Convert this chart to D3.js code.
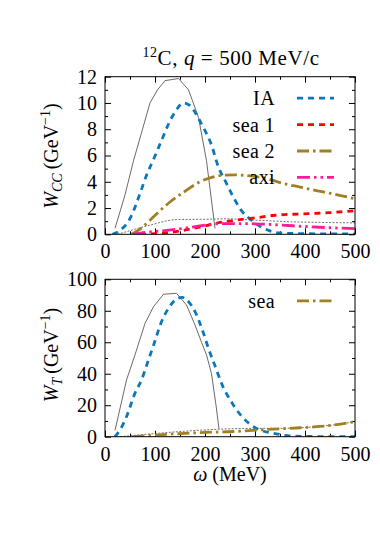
<!DOCTYPE html>
<html>
<head>
<meta charset="utf-8">
<script src="https://cdn.jsdelivr.net/npm/d3@7/dist/d3.min.js"></script>
<style>
  body { margin: 0; background: #fff; }
  svg text { font-family: 'Liberation Serif', 'Times New Roman', serif; fill: #000; }
</style>
</head>
<body>
<svg id="chart" width="380" height="545"></svg>
<script>
// ── data: [omega (MeV), W] ──────────────────────────────────────────────────
const xTicks = [0, 100, 200, 300, 400, 500]
const yTicksCC = [0, 2, 4, 6, 8, 10, 12]
const yTicksT = [0, 20, 40, 60, 80, 100]

const ccFull = [[20, 0.45], [40, 3.0], [57, 5.6], [75, 8.0], [90, 10.0], [105, 11.0], [120, 11.7], [147, 11.86],
  [167, 11.0], [187, 8.9], [203, 5.6], [220, 0.45]]
const ccIA = [[15, 0], [30, 0.3], [50, 1.2], [70, 3.1], [83, 4.5], [97, 5.7], [107, 6.6], [117, 7.5], [127, 8.4],
  [140, 9.3], [157, 10.0], [170, 9.8], [180, 9.3], [193, 8.4], [213, 6.8], [227, 5.1], [240, 4.1], [253, 3.1],
  [273, 1.8], [293, 1.07], [310, 0.6], [327, 0.3], [350, 0.1], [400, 0.05], [500, 0.02]]
const ccSea1 = [[70, 0], [100, 0.05], [130, 0.15], [157, 0.3], [190, 0.55], [230, 0.9], [260, 1.07], [300, 1.25],
  [340, 1.45], [413, 1.58], [450, 1.65], [500, 1.8]]
const ccSea2 = [[53, 0], [70, 0.4], [90, 1.07], [110, 1.8], [130, 2.46], [157, 3.2], [190, 4.0], [215, 4.35],
  [237, 4.5], [260, 4.52], [290, 4.45], [323, 4.25], [353, 3.9], [390, 3.6], [420, 3.35], [460, 3.05], [500, 2.7]]
const ccAxi = [[55, 0], [90, 0.18], [123, 0.3], [157, 0.45], [190, 0.64], [223, 0.8], [260, 0.82], [300, 0.8],
  [340, 0.73], [407, 0.58], [450, 0.5], [500, 0.43]]
const ccDotted = [[25, 0], [43, 0.2], [90, 0.7], [143, 1.12], [210, 1.15], [240, 1.18], [300, 1.08], [373, 0.95],
  [440, 0.9], [500, 0.87]]

const tFull = [[20, 4], [43, 36], [60, 52], [80, 72], [97, 82.6], [117, 90.5], [143, 91.1], [163, 83.7], [180, 71],
  [193, 60], [203, 52], [213, 40], [222, 20], [228, 5]]
const tIA = [[20, 0], [30, 4.3], [43, 12.7], [60, 27.7], [73, 36], [85, 47], [97, 58], [113, 73], [127, 81.6],
  [143, 87.5], [155, 88.5], [163, 87], [180, 79.5], [197, 65.7], [207, 56], [220, 45], [233, 34], [257, 20],
  [277, 11.7], [303, 5.3], [340, 2], [370, 0.5], [420, 0.1], [500, 0]]
const tSea = [[55, 0], [90, 0.8], [123, 1.5], [160, 2.1], [190, 2.6], [257, 3.3], [323, 4.6], [390, 5.7],
  [430, 6.5], [457, 7.4], [480, 8.4], [500, 9.6]]
const tDotted = [[30, 0], [60, 0.9], [103, 2.1], [160, 3.5], [223, 4.7], [297, 5.3], [357, 5.3], [423, 6.4],
  [470, 8], [500, 9.6]]

const legendCC = ['IA', 'sea 1', 'sea 2', 'axi']
const legendT = ['sea']

// ── styles ──────────────────────────────────────────────────────────────────
const styles = {
  full: { stroke: '#444', width: 0.8, dash: null, curve: d3.curveLinear },
  dotted: { stroke: '#333', width: 0.7, dash: '2,1.5', curve: d3.curveMonotoneX },
  IA: { stroke: '#0a78ba', width: 2.8, dash: '6,5', curve: d3.curveMonotoneX },
  'sea 1': { stroke: '#ff0000', width: 2.8, dash: '6,5', curve: d3.curveMonotoneX },
  'sea 2': { stroke: '#a08020', width: 2.8, dash: '12,4,2.5,4', curve: d3.curveMonotoneX },
  axi: { stroke: '#ff1a9a', width: 2.8, dash: '13,4,2.5,4,2.5,4', curve: d3.curveMonotoneX },
  sea: { stroke: '#a08020', width: 2.8, dash: '12,4,2.5,4', curve: d3.curveMonotoneX },
}

const svg = d3.select('#chart')
svg.append('rect').attr('width', 380).attr('height', 545).attr('fill', '#fff')

const left = 105, right = 355

function drawPanel(id, top, bottom, yMax, yMajor, yMinorStep, series, legend) {
  const x = d3.scaleLinear().domain([0, 500]).range([left, right])
  const y = d3.scaleLinear().domain([0, yMax]).range([bottom, top])
  const g = svg.append('g').attr('class', 'panel-' + id)

  g.append('clipPath').attr('id', 'clip-' + id)
    .append('rect').attr('x', left).attr('y', top).attr('width', right - left).attr('height', bottom - top)

  const xMinor = d3.range(50, 500, 100)
  const yMinor = d3.range(yMinorStep, yMax, yMinorStep * 2)

  const addAxis = (axisFn, scale, ticks, size, tx, ty, labels, pad) => {
    const a = g.append('g').attr('transform', `translate(${tx},${ty})`)
      .call(axisFn(scale).tickValues(ticks).tickSize(-size).tickPadding(pad || 0)
        .tickFormat(labels ? d3.format('d') : ''))
    a.select('.domain').remove()
    a.selectAll('.tick line').attr('stroke', '#000').attr('stroke-width', 1)
    a.selectAll('text').attr('font-size', 20)
    return a
  }

  // major + minor ticks on all four sides, pointing inward
  addAxis(d3.axisBottom, x, xTicks, 6, 0, bottom, true, 10)
  addAxis(d3.axisBottom, x, xMinor, 3, 0, bottom, false)
  addAxis(d3.axisTop, x, xTicks, 6, 0, top, false)
  addAxis(d3.axisTop, x, xMinor, 3, 0, top, false)
  addAxis(d3.axisLeft, y, yMajor, 6, left, 0, true, 8)
  addAxis(d3.axisLeft, y, yMinor, 3, left, 0, false)
  addAxis(d3.axisRight, y, yMajor, 6, right, 0, false)
  addAxis(d3.axisRight, y, yMinor, 3, right, 0, false)

  const plot = g.append('g').attr('clip-path', `url(#clip-${id})`)
  series.forEach(({ data, key }) => {
    const s = styles[key]
    plot.append('path')
      .datum(data)
      .attr('fill', 'none')
      .attr('stroke', s.stroke)
      .attr('stroke-width', s.width)
      .attr('stroke-dasharray', s.dash)
      .attr('d', d3.line().x(d => x(d[0])).y(d => y(d[1])).curve(s.curve))
  })

  // legend
  const lg = g.append('g')
  legend.forEach((label, i) => {
    const cy = (top + 21.5) + i * 26.4
    const s = styles[label]
    lg.append('text').attr('x', 275).attr('y', cy + 7).attr('text-anchor', 'end')
      .attr('font-size', 20).attr('letter-spacing', 0.4).text(label)
    lg.append('line').attr('x1', 297).attr('x2', 334).attr('y1', cy).attr('y2', cy)
      .attr('stroke', s.stroke).attr('stroke-width', s.width).attr('stroke-dasharray', s.dash)
  })

  g.append('rect').attr('x', left).attr('y', top).attr('width', right - left).attr('height', bottom - top)
    .attr('fill', 'none').attr('stroke', '#000').attr('stroke-width', 1)

  return { x, y, g }
}

drawPanel('cc', 76.7, 234.3, 12, yTicksCC, 1, [
  { data: ccFull, key: 'full' },
  { data: ccDotted, key: 'dotted' },
  { data: ccIA, key: 'IA' },
  { data: ccSea1, key: 'sea 1' },
  { data: ccSea2, key: 'sea 2' },
  { data: ccAxi, key: 'axi' },
], legendCC)

drawPanel('t', 279.3, 436.7, 100, yTicksT, 10, [
  { data: tFull, key: 'full' },
  { data: tDotted, key: 'dotted' },
  { data: tIA, key: 'IA' },
  { data: tSea, key: 'sea' },
], legendT)

// ── titles and axis labels ──────────────────────────────────────────────────
const title = svg.append('text').attr('x', 231).attr('y', 65).attr('text-anchor', 'middle')
  .attr('font-size', 21).attr('letter-spacing', 0.6)
title.append('tspan').attr('font-size', 14).attr('dy', -8).text('12')
title.append('tspan').attr('dy', 8).text('C, ')
title.append('tspan').attr('font-style', 'italic').text('q')
title.append('tspan').text(' = 500 MeV/c')

function yLabel(cx, cy, sub) {
  const t = svg.append('text').attr('transform', `translate(${cx},${cy}) rotate(-90)`)
    .attr('text-anchor', 'middle').attr('font-size', 20)
  t.append('tspan').attr('font-style', 'italic').text('W')
  t.append('tspan').attr('font-style', 'italic').attr('font-size', 14).attr('dy', 4).text(sub)
  t.append('tspan').attr('dy', -4).text('\u2009(GeV')
  t.append('tspan').attr('font-size', 14).attr('dy', -8).text('\u22121')
  t.append('tspan').attr('dy', 8).text(')')
}
yLabel(58, 156, 'CC')
yLabel(58, 355, 'T')

const xl = svg.append('text').attr('x', 230).attr('y', 481).attr('text-anchor', 'middle').attr('font-size', 20)
xl.append('tspan').attr('font-style', 'italic').text('\u03c9')
xl.append('tspan').text(' (MeV)')
</script>
</body>
</html>
